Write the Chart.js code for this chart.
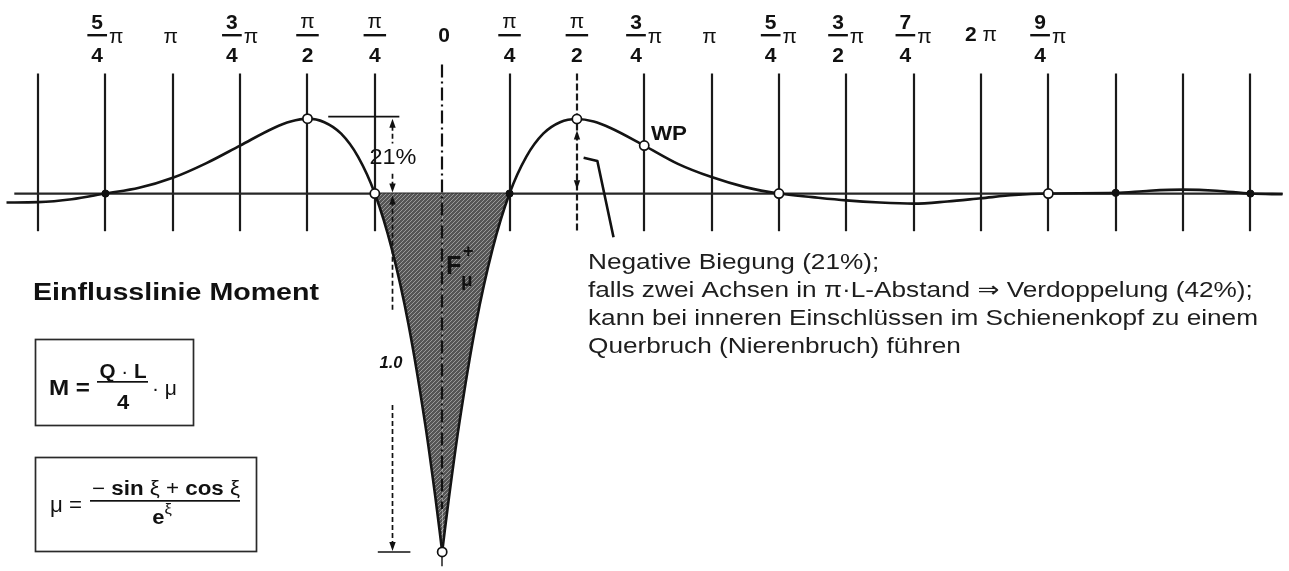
<!DOCTYPE html>
<html>
<head>
<meta charset="utf-8">
<script src="https://cdn.jsdelivr.net/npm/chart.js@4.4.1/dist/chart.umd.min.js"></script>
<style>
  html, body { margin: 0; padding: 0; background: #fff; }
  #wrap { width: 1289px; height: 571px; position: relative; }
</style>
</head>
<body>
<div id="wrap"><canvas id="c"></canvas></div>
<script>
// Influence line of the bending moment on an elastic foundation.
// x: ξ in multiples of π, y: μ (positive values are plotted downward).
const xiLeft = [-1.618, -1.5, -1.375, -1.25, -1.125, -1.0, -0.875, -0.75, -0.625, -0.5625, -0.5, -0.4375, -0.375, -0.3125, -0.25, -0.1875, -0.125, -0.0625, -0.025, -0.01, 0];
const muLeft = [0.025, 0.024, 0.016, 0, -0.016, -0.044, -0.085, -0.134, -0.183, -0.201, -0.209, -0.199, -0.167, -0.103, 0, 0.153, 0.365, 0.646, 0.849, 0.938, 1.0];
const xiRight = [0, 0.01, 0.025, 0.0625, 0.125, 0.1875, 0.25, 0.3125, 0.375, 0.4375, 0.5, 0.5625, 0.625, 0.75, 0.875, 1.0, 1.125, 1.25, 1.375, 1.5, 1.625, 1.75, 1.875, 2.0, 2.125, 2.25, 2.5, 2.625, 2.75, 2.875, 3.0, 3.12];
const muRight = [1.0, 0.938, 0.849, 0.646, 0.365, 0.153, 0, -0.103, -0.167, -0.199, -0.208, -0.201, -0.183, -0.134, -0.083, -0.046, -0.018, 0, 0.010, 0.019, 0.025, 0.028, 0.022, 0.013, 0.004, 0, -0.002, -0.008, -0.011, -0.008, 0, 0.002];

// top axis labels and vertical guide lines
const tickPos  = [-1.25, -1, -0.75, -0.5, -0.25, 0, 0.25, 0.5, 0.75, 1, 1.25, 1.5, 1.75, 2, 2.25];
const tickText = ['5/4π', 'π', '3/4π', 'π/2', 'π/4', '0', 'π/4', 'π/2', '3/4π', 'π', '5/4π', '3/2π', '7/4π', '2π', '9/4π'];
const guidePos = [-1.5, -1.25, -1, -0.75, -0.5, -0.25, 0.25, 0.5, 0.75, 1, 1.25, 1.5, 1.75, 2, 2.25, 2.5, 2.75, 3];

// marked points on the curve
const openMarks  = [-0.5, -0.25, 0, 0.5, 0.75, 1.25, 2.25];
const solidMarks = [-1.25, 0.25, 2.5, 3.0];

const noteLines = [
  'Negative Biegung (21%);',
  'falls zwei Achsen in π·L-Abstand ⇒ Verdoppelung (42%);',
  'kann bei inneren Einschlüssen im Schienenkopf zu einem',
  'Querbruch (Nierenbruch) führen'
];

const X_MIN = -1.618, X_MAX = 3.12, Y_MIN = -0.5225, Y_MAX = 1.0355;
const FONT = "'Liberation Sans', Arial, 'DejaVu Sans', sans-serif";
const INK = '#141414';

const curveL = xiLeft.map((x, i) => ({ x, y: muLeft[i] }));
const curveR = xiRight.map((x, i) => ({ x, y: muRight[i] }));
const allPts = curveL.concat(curveR);
const onCurve = v => allPts.find(p => p.x === v);
const inV = p => p.x >= -0.25 && p.x <= 0.25;
const peakMu = Math.min(...muLeft);

const canvas = document.getElementById('c');
const ctx0 = canvas.getContext('2d');

// fine diagonal hatching for the positive area
function hatchPattern() {
  const t = document.createElement('canvas');
  t.width = 4; t.height = 4;
  const g = t.getContext('2d');
  g.fillStyle = '#555555';
  g.fillRect(0, 0, 4, 4);
  g.strokeStyle = '#999999';
  g.lineWidth = 1;
  g.beginPath();
  g.moveTo(-1, 5); g.lineTo(5, -1);
  g.stroke();
  return ctx0.createPattern(t, 'repeat');
}
const hatch = hatchPattern();

function measureRuns(ctx, parts) {
  let w = 0;
  parts.forEach(p => { ctx.font = p[1]; w += ctx.measureText(p[0]).width; });
  return w;
}
// draws a sequence of [text, font, dy] pieces, horizontally scaled by sx
function runs(ctx, parts, x, y, align, sx) {
  const total = measureRuns(ctx, parts) * sx;
  const start = align === 'center' ? x - total / 2 : (align === 'right' ? x - total : x);
  ctx.save();
  ctx.translate(start, y);
  ctx.scale(sx, 1);
  ctx.textAlign = 'left';
  ctx.textBaseline = 'alphabetic';
  let cx = 0;
  parts.forEach(p => {
    ctx.font = p[1];
    ctx.fillText(p[0], cx, p[2] || 0);
    cx += ctx.measureText(p[0]).width;
  });
  ctx.restore();
  return total;
}
function fitRuns(ctx, parts, x, y, align, width) {
  return runs(ctx, parts, x, y, align, width / measureRuns(ctx, parts));
}

function arrow(ctx, px, tipY, dir) { // dir -1: pointing up, +1: pointing down
  ctx.beginPath();
  ctx.moveTo(px, tipY);
  ctx.lineTo(px - 3.2, tipY - dir * 9);
  ctx.lineTo(px + 3.2, tipY - dir * 9);
  ctx.closePath();
  ctx.fill();
}

function drawTick(ctx, label, cx) {
  const B = 'bold 21px ' + FONT, R = '21px ' + FONT;
  ctx.fillStyle = '#111';
  if (label.includes('/')) {
    const [num, rest] = label.split('/');
    const suffix = rest.length > 1 && rest.endsWith('π');
    const den = suffix ? rest.slice(0, -1) : rest;
    const nf = num === 'π' ? R : B;
    ctx.font = nf; const nw = ctx.measureText(num).width;
    ctx.font = B; const dw = ctx.measureText(den).width;
    const fw = Math.max(nw, dw) + 8;
    ctx.font = R; const pw = suffix ? ctx.measureText('π').width : 0;
    const total = fw + (suffix ? 2 + pw : 0);
    const fc = cx - total / 2 + fw / 2;
    ctx.textAlign = 'center';
    ctx.textBaseline = 'alphabetic';
    ctx.font = nf; ctx.fillText(num, fc, num === 'π' ? 28 : 29);
    ctx.fillRect(fc - fw / 2, 34, fw, 2.4);
    ctx.font = B; ctx.fillText(den, fc, 62);
    if (suffix) { ctx.font = R; ctx.textAlign = 'left'; ctx.fillText('π', fc + fw / 2 + 2, 43); }
  } else if (label === 'π') {
    runs(ctx, [['π', R]], cx - 2, 43, 'center', 1);
  } else if (label.endsWith('π')) {
    runs(ctx, [[label.slice(0, -1), B], [' π', R]], cx, 41, 'center', 1);
  } else {
    runs(ctx, [[label, B]], cx + 2, 42, 'center', 1);
  }
}

const deco = {
  id: 'deco',
  beforeDatasetsDraw(chart) {
    const { ctx, scales: { x, y }, chartArea: a } = chart;
    ctx.save();
    ctx.strokeStyle = '#1a1a1a';
    ctx.lineWidth = 2.2;
    guidePos.forEach(v => {
      const px = Math.round(x.getPixelForValue(v));
      ctx.setLineDash(v === 0.5 ? [7, 3] : []);
      ctx.beginPath();
      ctx.moveTo(px, y.getPixelForValue(-0.335));
      ctx.lineTo(px, y.getPixelForValue(0.105));
      ctx.stroke();
    });
    ctx.setLineDash([]);
    // zero line
    const y0 = y.getPixelForValue(0);
    ctx.strokeStyle = '#262626';
    ctx.lineWidth = 2.2;
    ctx.beginPath();
    ctx.moveTo(a.left + 8, y0);
    ctx.lineTo(a.right, y0);
    ctx.stroke();
    ctx.restore();
  },
  afterDatasetDraw(chart, args) {
    if (args.index !== 0) return;
    const { ctx, scales: { x, y } } = chart;
    ctx.save();
    ctx.strokeStyle = '#111';
    ctx.fillStyle = '#111';
    // centre line (dash-dot)
    const xc = Math.round(x.getPixelForValue(0));
    ctx.lineWidth = 2.2;
    ctx.setLineDash([13, 4, 2, 4]);
    ctx.beginPath();
    ctx.moveTo(xc, y.getPixelForValue(-0.36));
    ctx.lineTo(xc, y.getPixelForValue(0.88));
    ctx.stroke();

    // dimension line for 21 % and 1.0
    const xd = Math.round(x.getPixelForValue(-0.1845)) + 0.5;
    ctx.lineWidth = 1.7;
    ctx.setLineDash([5, 3]);
    const seg = (a, b) => { ctx.beginPath(); ctx.moveTo(xd, y.getPixelForValue(a)); ctx.lineTo(xd, y.getPixelForValue(b)); ctx.stroke(); };
    seg(peakMu + 0.02, -0.14);
    seg(-0.055, -0.02);
    seg(0.02, 0.33);
    seg(0.59, 0.98);
    ctx.setLineDash([]);
    arrow(ctx, xd, y.getPixelForValue(peakMu), -1);
    arrow(ctx, xd, y.getPixelForValue(0) - 1, 1);
    arrow(ctx, xd, y.getPixelForValue(0) + 2, -1);
    arrow(ctx, xd, y.getPixelForValue(1.0) - 1, 1);
    // reference line at peak level
    ctx.lineWidth = 1.7;
    ctx.beginPath();
    ctx.moveTo(x.getPixelForValue(-0.423), y.getPixelForValue(peakMu) - 2);
    ctx.lineTo(x.getPixelForValue(-0.159), y.getPixelForValue(peakMu) - 2);
    ctx.stroke();
    // bottom tick for 1.0
    ctx.beginPath();
    ctx.moveTo(x.getPixelForValue(-0.239), y.getPixelForValue(1.0));
    ctx.lineTo(x.getPixelForValue(-0.118), y.getPixelForValue(1.0));
    ctx.stroke();
    // short stem under the tip
    ctx.lineWidth = 1.4;
    ctx.beginPath();
    ctx.moveTo(xc, y.getPixelForValue(1.0));
    ctx.lineTo(xc, y.getPixelForValue(1.04));
    ctx.stroke();

    // arrows on the right π/2 line
    const xr = Math.round(x.getPixelForValue(0.5));
    arrow(ctx, xr, y.getPixelForValue(-0.176), -1);
    arrow(ctx, xr, y.getPixelForValue(-0.012), 1);

    // leader line to the note
    ctx.lineWidth = 2.6;
    ctx.lineJoin = 'round';
    ctx.beginPath();
    ctx.moveTo(x.getPixelForValue(0.525), y.getPixelForValue(-0.1));
    ctx.lineTo(x.getPixelForValue(0.576), y.getPixelForValue(-0.091));
    ctx.lineTo(x.getPixelForValue(0.636), y.getPixelForValue(0.122));
    ctx.stroke();
    ctx.restore();
  },
  afterDraw(chart) {
    const { ctx, scales: { x } } = chart;
    ctx.save();
    tickPos.forEach((v, i) => drawTick(ctx, tickText[i], x.getPixelForValue(v)));

    ctx.fillStyle = '#111';
    // point and dimension labels
    fitRuns(ctx, [['WP', 'bold 20px ' + FONT]], 651, 140, 'left', 36);
    fitRuns(ctx, [['21%', '22px ' + FONT]], 393, 164, 'center', 47);
    fitRuns(ctx, [['1.0', 'italic bold 17px ' + FONT]], 391, 368, 'center', 23);
    runs(ctx, [['F', 'bold 25px ' + FONT]], 446, 274, 'left', 1);
    runs(ctx, [['+', 'bold 18px ' + FONT]], 463, 257, 'left', 1);
    runs(ctx, [['μ', 'bold 19px ' + FONT]], 461, 286, 'left', 1);

    // title
    fitRuns(ctx, [['Einflusslinie Moment', 'bold 23px ' + FONT]], 33, 300, 'left', 286);

    // note
    ctx.fillStyle = '#1e1e1e';
    const nf = '22px ' + FONT;
    const sxNote = 670 / measureRuns(ctx, [[noteLines[2], nf]]);
    noteLines.forEach((t, i) => runs(ctx, [[t, nf]], 588, 269 + i * 28, 'left', sxNote));

    // formula boxes
    ctx.strokeStyle = '#2a2a2a';
    ctx.lineWidth = 1.7;
    ctx.strokeRect(35.5, 339.5, 158, 86);
    ctx.strokeRect(35.5, 457.5, 221, 94);
    ctx.fillStyle = '#111';
    const B19 = 'bold 20px ' + FONT, R19 = '20px ' + FONT, B22 = 'bold 22px ' + FONT, R22 = '22px ' + FONT;
    fitRuns(ctx, [['M =', B22]], 49, 395, 'left', 41);
    fitRuns(ctx, [['Q', B19], [' · ', R19], ['L', B19]], 123, 378, 'center', 47);
    ctx.fillRect(97, 381, 51, 1.7);
    runs(ctx, [['4', B19]], 123, 409, 'center', 1.1);
    fitRuns(ctx, [['· μ', R19]], 152, 395, 'left', 25);

    fitRuns(ctx, [['μ =', R22]], 50, 512, 'left', 32);
    fitRuns(ctx, [['− ', R19], ['sin', B19], [' ξ + ', R19], ['cos', B19], [' ξ', R19]], 166, 495, 'center', 148);
    ctx.fillRect(90, 500, 150, 1.7);
    runs(ctx, [['e', B19], ['ξ', '15px ' + FONT, -10]], 162, 524, 'center', 1.1);
    ctx.restore();
  }
};

const lineBase = { pointRadius: 0, cubicInterpolationMode: 'monotone', spanGaps: true };

new Chart(canvas, {
  type: 'line',
  data: {
    datasets: [
      Object.assign({ data: curveL.filter(inV), fill: 'origin', backgroundColor: hatch, borderWidth: 0, order: 3 }, lineBase),
      Object.assign({ data: curveR.filter(inV), fill: 'origin', backgroundColor: hatch, borderWidth: 0, order: 3 }, lineBase),
      Object.assign({ data: curveL, fill: false, borderColor: INK, borderWidth: 2.6, order: 2 }, lineBase),
      Object.assign({ data: curveR, fill: false, borderColor: INK, borderWidth: 2.6, order: 2 }, lineBase),
      { data: openMarks.map(onCurve), showLine: false, pointRadius: 4.6, pointBackgroundColor: '#fff',
        pointBorderColor: '#111', pointBorderWidth: 1.7, order: 0 },
      { data: solidMarks.map(onCurve), showLine: false, pointRadius: 3.6, pointBackgroundColor: '#111',
        pointBorderColor: '#111', pointBorderWidth: 1, order: 0 }
    ]
  },
  options: {
    responsive: true,
    maintainAspectRatio: false,
    animation: false,
    devicePixelRatio: 1,
    layout: { padding: 0 },
    events: [],
    plugins: { legend: { display: false }, tooltip: { enabled: false }, title: { display: false } },
    scales: {
      x: { type: 'linear', min: X_MIN, max: X_MAX, display: false },
      y: { type: 'linear', min: Y_MIN, max: Y_MAX, reverse: true, display: false }
    }
  },
  plugins: [deco]
});
</script>
</body>
</html>
